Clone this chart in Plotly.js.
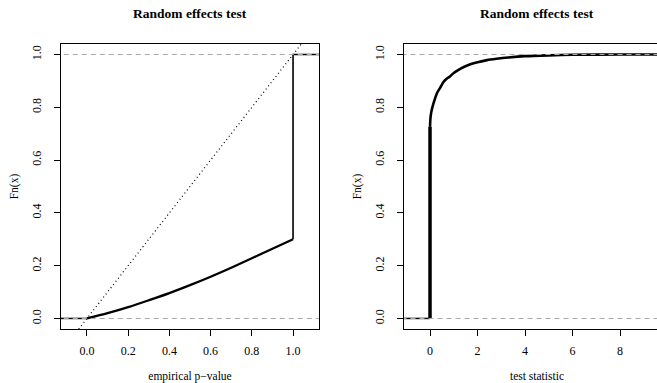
<!DOCTYPE html>
<html><head><meta charset="utf-8">
<script src="https://cdn.plot.ly/plotly-3.0.1.min.js"></script>
<style>html,body{margin:0;padding:0;overflow:hidden;background:#fff}#c{width:670px;height:383px}</style>
</head><body><div id="c"></div>
<script>
// Left panel: ECDF of empirical p-values
const pvalFlatX = [-0.13, 0.0];
const pvalFlatY = [0.0, 0.0];
const pvalX = [0.0, 0.1, 0.2, 0.3, 0.4, 0.5, 0.6, 0.7, 0.8, 0.9, 1.0];
const pvalY = [0.0, 0.02, 0.043, 0.069, 0.096, 0.126, 0.158, 0.192, 0.228, 0.264, 0.30];
const pvalJumpX = [1.0, 1.0, 1.13];
const pvalJumpY = [0.30, 1.0, 1.0];
// Right panel: ECDF of test statistic
const statFlatX = [-1.1, 0.0];
const statFlatY = [0.0, 0.0];
const statJumpX = [0.0, 0.0];
const statJumpY = [0.0, 0.726];
const statX = [0, 0.02, 0.05, 0.1, 0.2, 0.3, 0.42, 0.56, 0.7, 0.84, 1.0, 1.2, 1.4, 1.7, 2.0, 2.4, 2.8, 3.3, 4.0, 5.0, 6.0, 8.0, 10.2];
const statY = [0.726, 0.76, 0.78, 0.80, 0.83, 0.855, 0.873, 0.895, 0.908, 0.917, 0.93, 0.942, 0.952, 0.963, 0.971, 0.979, 0.984, 0.989, 0.994, 0.997, 0.999, 1.0, 1.0];
const xTicksLeft = [0, 0.2, 0.4, 0.6, 0.8, 1.0];
const xTicksRight = [0, 2, 4, 6, 8, 10];
const yTicks = [0, 0.2, 0.4, 0.6, 0.8, 1.0];
const refLevels = [0, 1];
const diag = [-0.04, 1.04];

const W = 670, H = 383;
const font = "Liberation Serif";
const gray = '#aaaaaa';

const traces = [];
// left
traces.push({x: pvalFlatX, y: pvalFlatY, xaxis: 'x', yaxis: 'y', mode: 'lines', line: {color: '#000', width: 1.5}});
traces.push({x: pvalX, y: pvalY, xaxis: 'x', yaxis: 'y', mode: 'lines', line: {color: '#000', width: 2.3, shape: 'spline', smoothing: 0.8}});
traces.push({x: pvalJumpX, y: pvalJumpY, xaxis: 'x', yaxis: 'y', mode: 'lines', line: {color: '#000', width: 1.6}});
traces.push({x: diag, y: diag, xaxis: 'x', yaxis: 'y', mode: 'lines', line: {color: '#000', width: 1.2, dash: '1px,3px'}});
refLevels.forEach(v => traces.push({x: [-0.2, 1.2], y: [v, v], xaxis: 'x', yaxis: 'y', mode: 'lines', line: {color: gray, width: 1.1, dash: '5px,4px'}}));
// right
traces.push({x: statFlatX, y: statFlatY, xaxis: 'x2', yaxis: 'y2', mode: 'lines', line: {color: '#000', width: 1.5}});
traces.push({x: statJumpX, y: statJumpY, xaxis: 'x2', yaxis: 'y2', mode: 'lines', line: {color: '#000', width: 3.5}});
traces.push({x: statX, y: statY, xaxis: 'x2', yaxis: 'y2', mode: 'lines', line: {color: '#000', width: 2.6, shape: 'spline', smoothing: 0.6}});
refLevels.forEach(v => traces.push({x: [-1.2, 10.5], y: [v, v], xaxis: 'x2', yaxis: 'y2', mode: 'lines', line: {color: gray, width: 1.1, dash: '5px,4px'}}));

const tf = {family: font, size: 12, color: '#000'};
const lf = {family: font, size: 11.5, color: '#000'};
const axBase = {showgrid: false, zeroline: false, showline: true, mirror: true, linecolor: '#000', linewidth: 1,
  ticks: 'outside', ticklen: 6, tickcolor: '#000', tickwidth: 1, tickfont: tf};
const yd = [(H - 329) / H, (H - 44) / H];

const layout = {
  width: W, height: H, margin: {l: 0, r: 0, t: 0, b: 0}, showlegend: false,
  font: {family: font, color: '#000'},
  paper_bgcolor: '#fff', plot_bgcolor: '#fff',
  xaxis: Object.assign({}, axBase, {domain: [61 / W, 319 / W], range: [-0.126, 1.126], tickvals: xTicksLeft, ticktext: xTicksLeft.map(v => v.toFixed(1)),
    ticklabelstandoff: 5, title: {text: 'empirical p\u2212value', font: lf, standoff: 14}}),
  yaxis: Object.assign({}, axBase, {domain: yd, range: [-0.04, 1.04], tickvals: yTicks, ticktext: yTicks.map(v => v.toFixed(1)), tickangle: -90,
    ticklabelstandoff: 8, title: {text: 'Fn(x)', font: lf, standoff: 9}}),
  xaxis2: Object.assign({}, axBase, {domain: [404 / W, 1], range: [-1.095, 10.105], tickvals: xTicksRight, ticktext: xTicksRight.map(String), anchor: 'y2',
    ticklabelstandoff: 5, title: {text: 'test statistic', font: lf, standoff: 14}}),
  yaxis2: Object.assign({}, axBase, {domain: yd, range: [-0.04, 1.04], tickvals: yTicks, ticktext: yTicks.map(v => v.toFixed(1)), tickangle: -90, anchor: 'x2',
    ticklabelstandoff: 8, title: {text: 'Fn(x)', font: lf, standoff: 9}}),
  annotations: [
    {text: '<b>Random effects test</b>', xref: 'paper', yref: 'paper', x: 190 / W, y: (H - 14) / H, xanchor: 'center', yanchor: 'middle', showarrow: false, font: {family: font, size: 13.5, color: '#000'}},
    {text: '<b>Random effects test</b>', xref: 'paper', yref: 'paper', x: 537 / W, y: (H - 14) / H, xanchor: 'center', yanchor: 'middle', showarrow: false, font: {family: font, size: 13.5, color: '#000'}}
  ]
};
Plotly.newPlot('c', traces, layout, {staticPlot: true, displayModeBar: false});
</script></body></html>
